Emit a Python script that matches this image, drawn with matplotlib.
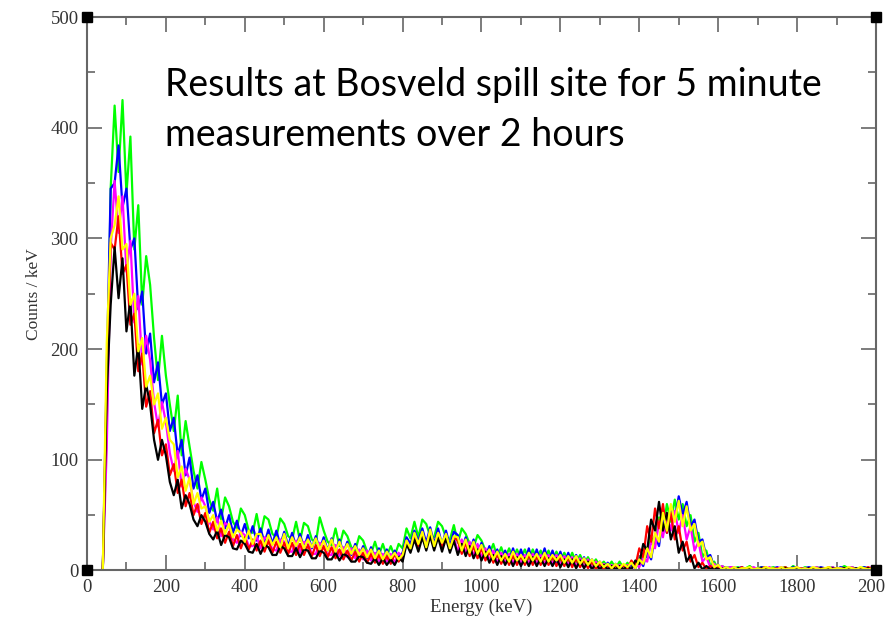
import matplotlib
matplotlib.use("Agg")
import matplotlib.pyplot as plt
import numpy as np

# energy bins (keV), one value every 10 keV from the threshold up to 2000
energy = np.arange(40, 2001, 10)

green = [0, 130, 345, 420, 360, 425, 340, 392, 290, 330,
         240, 284, 258, 210, 172, 212, 176, 150, 126, 158,
         104, 135, 112, 90, 74, 98, 82, 64, 54, 74,
         46, 66, 58, 44, 38, 56, 50, 36, 34, 51,
         32, 49, 46, 33, 30, 47, 42, 31, 28, 44,
         27, 43, 40, 28, 25, 48, 36, 26, 23, 38,
         22, 36, 31, 21, 18, 31, 27, 17, 15, 26,
         14, 24, 13, 22, 13, 24, 20, 38, 29, 44,
         30, 46, 42, 31, 30, 44, 40, 30, 28, 41,
         25, 38, 33, 24, 21, 32, 27, 18, 15, 24,
         12, 21, 11, 20, 11, 19, 11, 19, 10, 19,
         10, 18, 10, 18, 9, 17, 9, 16, 8, 16,
         7, 14, 6, 12, 5, 10, 4, 8, 3, 8,
         2, 8, 2, 7, 2, 8, 5, 15, 12, 30,
         24, 48, 36, 60, 44, 64, 46, 60, 40, 50,
         26, 34, 12, 18, 4, 8, 1, 4, 2, 3,
         2, 3, 1, 2, 4, 1, 2, 3, 1, 2,
         3, 1, 2, 3, 1, 4, 2, 1, 3, 2,
         1, 3, 2, 1, 2, 3, 1, 2, 4, 2,
         3, 1, 2, 3, 1, 2, 4]

blue = [0, 180, 345, 350, 384, 328, 345, 290, 300, 236,
        252, 196, 214, 170, 188, 150, 160, 126, 138, 104,
        118, 86, 102, 74, 86, 64, 74, 52, 62, 44,
        55, 38, 50, 34, 45, 31, 42, 29, 40, 27,
        38, 25, 37, 24, 36, 23, 35, 22, 34, 21,
        33, 20, 32, 20, 31, 19, 30, 18, 29, 17,
        28, 16, 26, 14, 24, 13, 22, 11, 21, 10,
        20, 9, 19, 9, 18, 12, 16, 30, 24, 36,
        26, 38, 25, 39, 24, 38, 23, 36, 22, 35,
        32, 18, 30, 17, 28, 15, 25, 12, 22, 10,
        19, 8, 18, 8, 20, 8, 19, 8, 20, 7,
        19, 8, 20, 7, 18, 7, 17, 6, 16, 5,
        14, 4, 12, 3, 10, 2, 8, 2, 7, 1,
        6, 1, 5, 1, 6, 2, 10, 4, 18, 10,
        32, 22, 48, 34, 56, 46, 67, 50, 62, 40,
        46, 26, 28, 12, 14, 3, 5, 1, 3, 1,
        1, 2, 3, 1, 2, 2, 1, 3, 2, 1,
        2, 3, 1, 2, 1, 3, 2, 1, 2, 3,
        2, 1, 3, 2, 1, 2, 1, 3, 2, 1,
        1, 2, 1, 3, 2, 1, 2]

magenta = [0, 110, 290, 352, 305, 338, 270, 298, 224, 248,
           186, 212, 190, 152, 130, 152, 134, 106, 90, 108,
           76, 92, 82, 62, 53, 66, 58, 44, 37, 48,
           31, 43, 40, 28, 25, 35, 32, 22, 22, 31,
           20, 30, 28, 19, 18, 28, 26, 17, 17, 27,
           16, 26, 24, 15, 15, 25, 22, 14, 14, 23,
           13, 21, 12, 20, 11, 19, 10, 18, 9, 16,
           8, 15, 8, 15, 7, 16, 12, 27, 19, 31,
           21, 33, 22, 34, 21, 33, 20, 32, 19, 30,
           17, 28, 16, 26, 13, 24, 12, 20, 9, 18,
           7, 16, 7, 15, 6, 15, 6, 14, 6, 15,
           6, 14, 6, 14, 6, 14, 5, 13, 5, 12,
           4, 11, 3, 10, 2, 8, 2, 6, 1, 5,
           1, 5, 1, 5, 1, 6, 3, 12, 8, 26,
           20, 44, 30, 52, 36, 54, 34, 50, 28, 40,
           18, 26, 8, 12, 3, 6, 1, 4, 1, 3,
           3, 1, 2, 1, 2, 3, 1, 2, 1, 3,
           1, 2, 3, 1, 2, 1, 3, 1, 2, 1,
           2, 3, 1, 2, 1, 3, 1, 2, 1, 2,
           3, 1, 2, 1, 2, 3, 1]

red = [0, 170, 296, 290, 320, 268, 276, 222, 232, 180,
       196, 148, 162, 124, 136, 104, 114, 86, 96, 70,
       82, 58, 70, 50, 60, 42, 52, 34, 44, 29,
       38, 25, 35, 22, 32, 20, 30, 19, 28, 18,
       27, 17, 27, 16, 26, 16, 25, 15, 25, 14,
       24, 14, 23, 13, 23, 13, 22, 12, 21, 11,
       19, 10, 18, 9, 17, 8, 16, 7, 15, 7,
       14, 6, 13, 6, 15, 8, 14, 24, 18, 31,
       22, 33, 21, 34, 21, 33, 20, 32, 19, 30,
       27, 15, 25, 13, 22, 11, 20, 9, 17, 7,
       15, 6, 14, 5, 14, 5, 13, 5, 14, 5,
       13, 5, 13, 5, 13, 4, 12, 4, 12, 3,
       11, 3, 10, 2, 8, 1, 6, 1, 5, 1,
       5, 1, 5, 1, 9, 4, 20, 12, 40, 26,
       56, 38, 60, 34, 52, 28, 40, 18, 26, 8,
       14, 3, 7, 1, 4, 1, 3, 1, 2, 1,
       2, 1, 3, 1, 2, 1, 1, 2, 3, 1,
       1, 2, 1, 3, 1, 2, 1, 2, 1, 2,
       2, 1, 2, 1, 3, 1, 2, 1, 2, 1,
       2, 1, 2, 1, 3, 1, 2]

black = [0, 160, 240, 292, 246, 282, 216, 244, 176, 204,
         146, 168, 150, 118, 100, 118, 104, 80, 68, 82,
         56, 68, 60, 46, 40, 50, 44, 33, 28, 36,
         23, 32, 30, 20, 19, 27, 24, 17, 16, 24,
         15, 23, 21, 14, 14, 22, 20, 13, 13, 20,
         12, 19, 18, 11, 11, 18, 16, 10, 10, 16,
         9, 15, 13, 8, 8, 13, 12, 7, 6, 11,
         5, 11, 5, 10, 5, 12, 8, 24, 16, 28,
         17, 30, 18, 31, 18, 30, 17, 29, 16, 27,
         14, 24, 13, 22, 11, 19, 9, 17, 7, 14,
         5, 13, 5, 12, 4, 12, 4, 11, 4, 12,
         4, 11, 4, 11, 4, 11, 3, 10, 3, 10,
         2, 9, 2, 8, 1, 6, 1, 5, 1, 4,
         1, 4, 1, 4, 1, 9, 6, 24, 18, 46,
         36, 62, 36, 52, 28, 40, 16, 26, 8, 14,
         2, 7, 1, 4, 1, 3, 1, 2, 1, 1,
         1, 2, 1, 1, 2, 1, 1, 2, 1, 1,
         2, 1, 1, 2, 1, 1, 2, 1, 1, 2,
         1, 1, 2, 1, 1, 2, 1, 1, 2, 1,
         1, 2, 1, 1, 2, 1, 1]

yellow = [0, 205, 300, 312, 338, 290, 295, 240, 250, 198,
          210, 166, 176, 150, 160, 128, 138, 118, 114, 84,
          94, 72, 84, 60, 70, 56, 58, 44, 50, 36,
          45, 33, 42, 30, 37, 34, 26, 36, 24, 33,
          33, 22, 32, 23, 30, 21, 33, 20, 30, 22,
          30, 20, 28, 21, 29, 19, 27, 18, 28, 17,
          26, 16, 24, 15, 22, 14, 20, 12, 19, 11,
          18, 10, 17, 11, 16, 10, 14, 27, 20, 34,
          24, 35, 21, 37, 22, 34, 25, 33, 20, 31,
          30, 18, 28, 16, 26, 15, 23, 13, 19, 10,
          17, 9, 15, 8, 17, 9, 14, 8, 16, 9,
          15, 8, 16, 8, 14, 9, 14, 7, 13, 7,
          13, 6, 11, 5, 10, 4, 8, 3, 6, 2,
          6, 2, 6, 3, 7, 2, 10, 6, 20, 12,
          34, 26, 52, 36, 60, 44, 63, 40, 58, 36,
          42, 22, 26, 10, 12, 3, 5, 1, 3, 1,
          3, 1, 2, 2, 3, 1, 2, 1, 3, 2,
          2, 1, 3, 1, 2, 2, 3, 1, 2, 1,
          3, 2, 1, 2, 3, 1, 2, 2, 1, 3,
          2, 1, 3, 2, 1, 2, 3]

spectra = [(green, "#00ff00"), (blue, "#0000ff"), (magenta, "#ff00ff"),
           (red, "#ff0000"), (black, "#000000"), (yellow, "#ffff00")]

fig = plt.figure(figsize=(8.85, 6.26), dpi=100)
ax = fig.add_axes([0.0983, 0.0887, 0.8915, 0.8841])

for vals, col in spectra:
    ax.plot(energy, vals, color=col, linewidth=1.6)

ax.set_xlim(0, 2000)
ax.set_ylim(0, 500)
ax.set_xticks(np.arange(0, 2001, 200))
ax.set_xticks(np.arange(0, 2001, 100), minor=True)
ax.set_yticks(np.arange(0, 501, 100))
ax.set_yticks(np.arange(0, 501, 50), minor=True)

axis_col = "#666666"
for sp in ax.spines.values():
    sp.set_color(axis_col)
    sp.set_linewidth(1.5)
ax.tick_params(which="both", direction="in", top=True, right=True,
               color=axis_col, width=1.2, labelcolor="#333333")
ax.tick_params(which="major", length=11, pad=6)
ax.tick_params(which="minor", length=6)

serif = "Liberation Serif"
for lab in ax.get_xticklabels() + ax.get_yticklabels():
    lab.set_family(serif)
    lab.set_fontsize(13.5)
ax.set_xlabel("Energy (keV)", family=serif, fontsize=13.5, color="#333333", labelpad=2)
ax.set_ylabel("Counts / keV", family=serif, fontsize=12.5, color="#333333", labelpad=6)

# the little black squares grace puts on the graph corners
ax.plot([0, 2000, 0, 2000], [0, 0, 500, 500], "s", color="k",
        markersize=7, clip_on=False, zorder=10)

ax.text(0.0985, 0.91, "Results at Bosveld spill site for 5 minute\nmeasurements over 2 hours",
        transform=ax.transAxes, family="Lato", fontsize=27, va="top", ha="left",
        linespacing=1.5, color="black")

fig.savefig("out.png", dpi=100)
